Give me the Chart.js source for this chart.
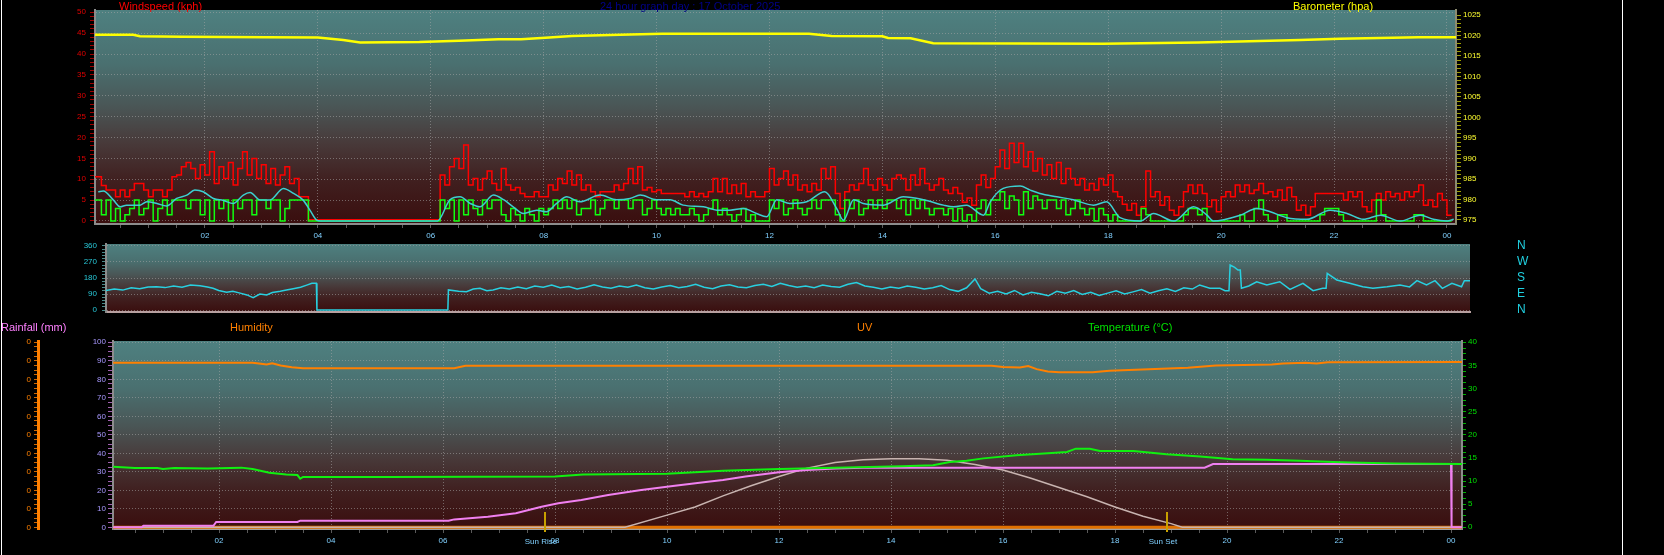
<!DOCTYPE html>
<html>
<head>
<meta charset="utf-8">
<script src="https://cdn.jsdelivr.net/npm/chart.js@4.4.1/dist/chart.umd.min.js"></script>
<style>
  body { margin: 0; background: #000; }
  #page { position: relative; width: 1664px; height: 555px; overflow: hidden; background: #000;
          font-family: "Liberation Sans", Arial, sans-serif; }
  canvas { position: absolute; }
  .lbl { position: absolute; font-size: 11px; line-height: 12px; white-space: nowrap; }
  .edge { position: absolute; top: 0; width: 1px; height: 555px; background: #fff; }
</style>
</head>
<body>
<div id="page">
  <canvas id="windChart" width="1664" height="250" style="left:0;top:0"></canvas>
  <canvas id="dirChart" width="1664" height="90" style="left:0;top:230px"></canvas>
  <canvas id="climateChart" width="1638" height="237" style="left:26px;top:318px"></canvas>

  <div class="lbl" style="left:119px;top:0;color:#ff0000">Windspeed (kph)</div>
  <div class="lbl" style="left:600px;top:0;color:#000088">24 hour graph day : 17 October 2025</div>
  <div class="lbl" style="left:1293px;top:0;color:#ffff00">Barometer (hpa)</div>
  <div class="lbl" style="left:1px;top:321px;color:#ff80ff">Rainfall (mm)</div>
  <div class="lbl" style="left:230px;top:321px;color:#ff8000">Humidity</div>
  <div class="lbl" style="left:857px;top:321px;color:#ff8000">UV</div>
  <div class="lbl" style="left:1088px;top:321px;color:#00e000">Temperature (°C)</div>
  <div class="edge" style="left:1px"></div>
  <div class="edge" style="left:1622px"></div>
</div>

<script>
// ---- data (hours since midnight) ----
const windStep = 5 / 60;   // gust / speed are 5-minute samples from 00:00

const gustKph = [
  10.6,10.6,8.5,7.4,7.4,5.8,7.4,5.8,7.4,9.0,9.0,7.4,
  5.8,7.4,7.4,5.8,7.4,10.6,11.0,13.0,14.0,12.6,10.2,13.5,
  11.0,16.6,9.0,13.0,10.2,14.0,8.6,12.6,16.6,11.0,15.0,10.2,
  13.5,9.0,12.6,8.6,11.0,13.0,9.0,10.2,5.8,5.8,0.3,0.3,
  0.3,0.3,0.3,0.3,0.3,0.3,0.3,0.3,0.3,0.3,0.3,0.3,
  0.3,0.3,0.3,0.3,0.3,0.3,0.3,0.3,0.3,0.3,0.3,0.3,
  0.3,0.3,11.0,8.6,13.0,15.0,12.6,18.2,8.6,10.2,7.4,10.2,
  12.0,9.0,7.4,12.6,8.6,7.4,8.0,6.6,5.8,5.8,7.0,5.8,
  5.8,8.6,7.4,10.2,9.0,12.0,8.6,11.0,7.4,8.6,7.0,5.8,
  7.0,7.0,7.0,8.6,7.4,9.0,12.6,9.0,13.0,7.4,8.0,7.0,
  7.4,6.6,6.6,6.6,6.6,6.6,5.8,7.0,5.8,6.6,5.8,7.0,
  10.2,7.0,10.2,6.6,8.6,6.6,9.0,5.8,7.0,5.8,5.8,7.0,
  12.6,8.6,10.2,12.0,8.6,11.0,7.4,8.6,7.0,9.0,7.4,12.6,
  10.2,13.0,6.6,3.0,7.0,8.6,7.4,9.0,12.6,8.6,7.4,10.2,
  8.6,7.4,10.2,11.0,10.2,7.4,11.0,8.6,12.6,9.0,7.4,8.6,
  10.2,7.4,6.6,8.0,6.6,4.5,5.5,3.8,8.6,11.0,8.0,10.2,
  13.0,17.0,12.6,18.6,14.0,18.6,13.0,16.6,12.0,15.0,11.0,13.5,
  10.2,14.0,9.0,12.6,10.2,8.6,10.2,7.4,9.0,7.4,10.2,8.6,
  11.0,7.0,5.8,4.0,2.6,4.2,1.4,3.4,12.0,5.8,7.0,3.8,
  5.8,2.6,1.4,3.4,7.0,8.6,6.6,8.6,6.6,3.4,5.0,2.2,
  5.8,7.0,5.8,8.6,7.0,8.6,6.6,7.4,9.0,6.6,7.0,5.8,
  7.4,5.0,8.0,5.8,2.6,3.8,1.4,3.4,6.6,6.6,6.6,6.6,
  6.6,6.6,5.0,7.0,5.8,7.0,3.4,2.2,5.0,6.6,5.0,7.0,
  5.8,6.6,5.0,7.0,5.8,7.0,8.6,3.8,5.0,3.4,6.6,5.0,
  1.4,1.4
];

const speedKph = [
  5,5,1.5,5,0,3,0,1.5,3,5,1.5,3,
  5,0,3,5,1.5,5,5,5,3,5,5,1.5,
  5,0,5,3,5,0,5,3,5,5,1.5,5,
  5,3,5,5,0,3,5,5,5,5,0,0,
  0,0,0,0,0,0,0,0,0,0,0,0,
  0,0,0,0,0,0,0,0,0,0,0,0,
  0,0,5,3,5,0,5,1.5,5,3,1.5,5,
  3,5,5,1.5,0,3,1.5,0,3,1.5,0,3,
  1.5,3,5,3,5,3,5,1.5,3,3,5,1.5,
  3,5,5,3,5,5,3,5,5,1.5,3,5,
  3,1.5,3,1.5,3,1.5,1.5,3,1.5,0,1.5,3,
  5,1.5,3,1.5,0,1.5,3,0,1.5,0,0,0,
  5,3,5,1.5,3,5,3,1.5,3,5,3,5,
  5,5,1.5,0,5,3,5,1.5,3,5,3,5,
  3,5,5,3,5,1.5,5,3,5,3,1.5,3,
  3,1.5,3,0,3,0,1.5,0,3,5,1.5,5,
  5,7,3,6,5,1.5,7,3,6,5,3,5,
  5,3,5,1.5,3,5,3,1.5,3,0,3,1.5,
  0,1.5,0,0,0,0,0,3,1.5,0,0,0,
  0,0,0,0,1.5,3,3,1.5,3,0,0,0,
  0,0,0,0,1.5,0,0,3,5,1.5,0,0,
  1.5,1.5,0,0,0,0,0,0,0,1.5,3,3,
  3,1.5,0,0,0,0,0,0,0,5,1.5,0,
  0,0,0,0,0,1.5,1.5,0,0,0,0,0,
  0,0
];

const avgTimes = [0.11,0.2,0.38,0.5,0.61,0.85,0.97,1.15,1.32,1.5,1.68,1.82,1.97,2.15,2.33,2.5,2.68,2.8,2.98,3.15,3.39,3.57,3.74,3.86,3.98,4.05,
  6.12,6.34,6.52,6.7,6.87,7.11,7.29,7.46,7.64,7.88,8.05,8.23,8.41,8.64,9.0,9.29,9.53,9.71,10.0,10.24,10.47,10.83,11.07,11.3,11.54,11.77,11.95,
  12.13,12.36,12.66,12.98,13.19,13.31,13.49,13.66,14.02,14.37,14.73,15.08,15.26,15.49,15.79,15.91,16.14,16.44,16.62,16.79,17.09,17.38,17.74,17.97,
  18.21,18.57,18.8,19.16,19.51,19.75,19.86,20.34,20.63,20.87,21.16,21.52,21.93,22.23,22.52,22.82,23.17,23.53,23.76,24.0,24.12];
const avgKph = [7.0,7.2,5.0,3.4,3.8,3.8,4.6,4.2,3.6,5.4,6.2,7.4,7.0,5.4,4.9,4.2,6.2,6.8,5.0,5.0,7.8,6.6,5.0,2.6,0.2,0,
  0,5.1,5.8,4.2,3.4,6.2,5.1,3.4,1.8,2.6,2.2,4.2,5.8,4.6,6.2,5.1,5.4,6.2,5.1,5.1,3.8,3.4,2.6,2.6,3.0,1.8,1.0,
  5.1,4.2,4.6,7.0,3.0,0.2,5.1,4.2,3.8,5.8,5.1,3.8,3.4,3.8,1.4,4.6,7.8,8.4,7.4,6.6,5.8,5.1,3.8,4.6,
  0.8,0,1.8,0,3.4,1.4,0,1.4,3.0,2.2,0.8,0.4,2.6,1.8,0.4,1.4,0,1.4,0.4,0,0.4];

const baroTimes = [0.05,0.73,0.85,1.6,3.1,4.0,4.45,4.75,5.8,6.5,7.2,7.6,8.1,8.5,9.35,10.1,12.7,13.1,14.0,14.1,14.5,14.9,17.9,19.6,20.5,21.4,22.1,23.5,24.16];
const baroHpa = [1020.2,1020.2,1019.8,1019.7,1019.6,1019.5,1018.9,1018.3,1018.4,1018.7,1019.1,1019.1,1019.5,1019.9,1020.2,1020.45,1020.4,1019.9,1019.8,1019.4,1019.3,1018.1,1018.0,1018.3,1018.6,1018.9,1019.2,1019.6,1019.6];

const dirTimes = [0.05,0.2,0.35,0.5,0.65,0.8,0.95,1.1,1.25,1.4,1.55,1.72,1.85,1.95,2.05,2.19,2.3,2.43,2.55,2.66,2.78,2.9,3.0,3.14,3.25,3.37,3.5,3.61,3.7,3.78,3.79,
  6.11,6.12,6.3,6.44,6.56,6.68,6.8,6.91,7.05,7.2,7.35,7.5,7.65,7.8,7.95,8.1,8.25,8.4,8.55,8.7,8.85,9.0,9.15,9.3,9.45,9.6,9.75,9.9,
  10.05,10.2,10.35,10.5,10.65,10.8,10.95,11.1,11.25,11.4,11.55,11.7,11.85,12.0,12.15,12.3,12.45,12.6,12.75,12.9,13.05,13.2,13.35,13.5,13.65,13.8,13.95,
  14.1,14.25,14.4,14.55,14.7,14.85,15.0,15.15,15.3,15.45,15.55,15.7,15.85,16.0,16.15,16.3,16.45,16.6,16.75,16.9,17.05,17.2,17.35,17.5,17.65,17.8,17.95,
  18.1,18.25,18.4,18.55,18.7,18.85,19.0,19.15,19.3,19.43,19.61,19.79,19.88,19.95,19.97,20.05,20.11,20.15,20.17,20.3,20.44,20.62,20.85,21.03,21.26,21.44,
  21.61,21.67,21.69,21.86,22.09,22.32,22.5,22.75,22.98,23.15,23.28,23.45,23.6,23.73,23.9,24.07,24.12,24.22];
const dirDeg = [109,118,112,125,120,130,131,126,135,128,140,137,130,122,110,100,105,95,85,70,90,85,98,105,112,120,128,140,150,150,0,
  0,113,105,103,118,122,108,113,125,118,130,120,135,128,140,125,132,118,128,142,130,122,135,128,140,125,118,130,
  138,125,132,145,128,120,135,142,130,125,138,145,132,150,138,128,135,125,140,132,128,145,155,135,128,118,130,
  122,135,128,118,125,138,115,105,125,175,120,95,105,90,110,85,100,92,80,105,95,110,88,100,82,95,108,
  90,102,115,95,108,120,105,125,118,141,122,122,109,109,253,240,225,225,122,135,159,141,159,116,150,109,
  122,122,206,169,150,131,122,131,141,130,165,141,165,122,150,131,165,165];
const compassTicks = [0, 90, 180, 270, 360];
const compassNames = ['N', 'E', 'S', 'W', 'N'];

const tempTimes = [0.11,0.5,0.9,1.0,1.2,1.8,2.4,2.6,2.9,3.2,3.4,3.45,3.5,5.0,8.0,8.5,10.0,11.0,12.0,13.0,14.2,14.75,15.05,15.35,15.65,16.24,16.8,17.14,17.3,17.55,17.73,18.33,18.92,19.52,20.1,20.7,21.3,21.9,22.2,23.0,24.2];
const tempC = [13.1,12.8,12.8,12.6,12.8,12.7,12.9,12.6,11.8,11.4,11.3,10.5,10.9,10.9,11.0,11.4,11.6,12.2,12.6,12.9,13.2,13.4,14.1,14.4,14.9,15.6,16.0,16.3,17.0,17.0,16.5,16.5,15.8,15.3,14.7,14.6,14.4,14.1,14.0,13.8,13.7];

const humTimes = [0.11,2.6,2.75,2.85,2.95,3.1,3.3,3.5,6.2,6.4,14.5,15.8,16.0,16.3,16.45,16.6,16.8,17.0,17.6,17.9,18.6,19.3,19.8,20.8,21.0,21.4,21.6,21.8,24.2];
const humPct = [89,89,88.4,88.0,88.7,87.5,86.5,86.0,86.0,87.3,87.3,87.3,86.6,86.4,87.2,85.5,84.2,83.8,83.8,84.6,85.5,86.2,87.5,88.0,88.6,88.9,88.6,89.2,89.3];

const rainTimes = [0.11,0.62,0.65,1.9,1.95,3.4,3.45,6.1,6.2,6.8,7.3,7.76,8.06,8.47,8.95,9.54,10.14,10.73,11.0,11.4,12.0,12.5,13.0,13.5,19.6,19.75,24.0,24.01,24.2];
const rainMm = [0,0,0.8,0.8,2.9,2.9,3.6,3.6,4.3,5.7,7.6,11.1,13.0,14.8,17.5,20.2,22.5,24.6,25.6,27.5,29.8,31.0,31.8,32.2,32.2,34.2,34.2,0,0];

const solarTimes = [0.11,9.25,10.0,10.5,11.0,11.5,12.0,12.5,13.0,13.5,14.0,14.5,15.0,15.5,16.0,16.5,17.0,17.5,18.0,18.5,19.0,19.2,24.2];
const solarUv = [0,0,0.66,1.1,1.7,2.25,2.75,3.2,3.5,3.65,3.7,3.7,3.62,3.4,3.1,2.65,2.15,1.65,1.1,0.6,0.2,0,0];
const uvTimes = [0.11, 24.2];
const uvIndex = [0, 0];

const sunRise = 7.82;
const sunSet = 18.93;

// ---- helpers ----
const gridDots = 'rgba(165,165,165,0.55)';
const bgStops = [[0, '#4e8080'], [0.25, '#4a7070'], [0.45, '#4a5656'], [0.62, '#483a3a'], [0.8, '#401f1f'], [1, '#3a0e0e']];

function pairs(times, values) {
  return times.map((t, i) => ({x: t, y: values[i]}));
}
function sampled(values) {
  return values.map((v, i) => ({x: i * windStep, y: v}));
}
function stepTicks(from, to, step) {
  const out = [];
  for (let k = 0; from + k * step <= to + 1e-9; k++) out.push({value: +(from + k * step).toFixed(4)});
  return out;
}
function isMajor(v, every) {
  return Math.abs(v / every - Math.round(v / every)) < 1e-6;
}

function yAxis(o) {
  return {
    position: o.pos, min: o.min, max: o.max, weight: o.weight || 0,
    afterBuildTicks: s => { s.ticks = stepTicks(o.from, o.to, o.minor); },
    afterFit: s => { s.width = o.width; s.paddingTop = 0; s.paddingBottom = 0; },
    ticks: {color: o.label, padding: o.pad, autoSkip: false, font: {size: 8},
      callback: v => isMajor(v, o.major) ? String(v) : ''},
    grid: {drawOnChartArea: o.grid !== false, tickLength: o.tickLen, tickColor: o.tick, tickBorderDash: [],
      color: c => (c.tick && isMajor(c.tick.value, o.major)) ? gridDots : 'rgba(0,0,0,0)'},
    border: {color: o.border, width: o.borderWidth || 2, dash: [1, 2]}
  };
}

function xAxis(min, max, height, labels, border) {
  return {
    type: 'linear', position: 'bottom', min: min, max: max,
    afterBuildTicks: s => { s.ticks = stepTicks(0.5, 24, 0.5).filter(t => t.value >= min && t.value <= max); },
    afterFit: s => { s.height = height; s.paddingLeft = 0; s.paddingRight = 0; },
    ticks: {display: labels, color: '#80d0ff', padding: 3, autoSkip: false, maxRotation: 0, minRotation: 0,
      font: {size: 8}, callback: v => isMajor(v, 2) ? String(v % 24).padStart(2, '0') : ''},
    grid: {display: labels, tickLength: 4, tickColor: '#5a5a5a', tickBorderDash: [],
      color: c => (c.tick && isMajor(c.tick.value, 2)) ? gridDots : 'rgba(0,0,0,0)'},
    border: {color: border, width: 2, dash: [1, 2]}
  };
}

function line(points, color, width, axis, extra) {
  return Object.assign({data: points, borderColor: color, borderWidth: width, yAxisID: axis,
    pointRadius: 0, fill: false, tension: 0}, extra || {});
}

const panelFill = {
  id: 'panelFill',
  beforeDraw(chart) {
    const {ctx, chartArea: a} = chart;
    const g = ctx.createLinearGradient(0, a.top, 0, a.bottom);
    bgStops.forEach(([p, c]) => g.addColorStop(p, c));
    ctx.save();
    ctx.fillStyle = g;
    ctx.fillRect(a.left, a.top, a.right - a.left, a.bottom - a.top);
    ctx.restore();
  }
};

const sunMarks = {
  id: 'sunMarks',
  afterDatasetsDraw(chart) {
    const {ctx, chartArea: a} = chart;
    const x = chart.scales.x;
    ctx.save();
    [[sunRise, 'Sun Rise'], [sunSet, 'Sun Set']].forEach(([t, name]) => {
      const px = Math.round(x.getPixelForValue(t));
      ctx.strokeStyle = '#c8a000';
      ctx.lineWidth = 2;
      ctx.beginPath();
      ctx.moveTo(px, a.bottom - 17);
      ctx.lineTo(px, a.bottom + 3);
      ctx.stroke();
      ctx.fillStyle = '#80d0ff';
      ctx.font = '8px "Liberation Sans", Arial, sans-serif';
      ctx.textAlign = 'center';
      ctx.textBaseline = 'middle';
      ctx.fillText(name, px - 4, a.bottom + 13);
    });
    ctx.restore();
  }
};

Chart.defaults.font.family = '"Liberation Sans", Arial, sans-serif';
Chart.defaults.font.size = 8;

function baseOptions(padTop, scales) {
  return {
    responsive: false, animation: false, devicePixelRatio: 1, events: [],
    layout: {padding: {top: padTop, left: 0, right: 0, bottom: 0}},
    plugins: {legend: {display: false}, tooltip: {enabled: false}},
    scales: scales
  };
}

// ---- top panel: wind speed + barometer ----
new Chart(document.getElementById('windChart'), {
  type: 'line',
  data: {datasets: [
    line(pairs(avgTimes, avgKph), '#3cd0d0', 1.5, 'yWind', {cubicInterpolationMode: 'monotone'}),
    line(sampled(speedKph), '#10ff10', 1.5, 'yWind', {stepped: true}),
    line(sampled(gustKph), '#ff0000', 1.5, 'yWind', {stepped: true}),
    line(pairs(baroTimes, baroHpa), '#ffff00', 2.5, 'yBaro')
  ]},
  options: baseOptions(10, {
    x: xAxis(0.053, 24.16, 26, true, '#8c8c8c'),
    yWind: yAxis({pos: 'left', min: -0.72, max: 50.55, from: 0, to: 50, minor: 1, major: 5, width: 95,
      label: '#e00000', tick: '#a00000', border: '#8c8c8c', pad: 4, tickLen: 5}),
    yBaro: yAxis({pos: 'right', min: 974.02, max: 1026.22, from: 975, to: 1025, minor: 1, major: 5, width: 208,
      label: '#ffff30', tick: '#a0a000', border: '#8c8c70', pad: 2, tickLen: 5, grid: false})
  }),
  plugins: [panelFill]
});

// ---- middle panel: wind direction ----
new Chart(document.getElementById('dirChart'), {
  type: 'line',
  data: {datasets: [
    line(pairs(dirTimes, dirDeg), '#28d0e0', 1.5, 'yDir')
  ]},
  options: baseOptions(14, {
    x: xAxis(0.053, 24.22, 8, false, '#b8a0a0'),
    yDir: yAxis({pos: 'left', min: -11, max: 371, from: 0, to: 360, minor: 18, major: 90, width: 106,
      label: '#28c8d8', tick: '#4a8a8a', border: '#8c8c8c', pad: 5, tickLen: 4}),
    yCompass: {
      position: 'right', min: -11, max: 371,
      afterBuildTicks: s => { s.ticks = compassTicks.map(v => ({value: v})); },
      afterFit: s => { s.width = 194; s.paddingTop = 0; s.paddingBottom = 0; },
      ticks: {color: '#20d0e0', padding: 47, autoSkip: false, font: {size: 12}, callback: (v, i) => compassNames[i]},
      grid: {display: false, drawTicks: false},
      border: {display: false}
    }
  }),
  plugins: [panelFill]
});

// ---- bottom panel: humidity, temperature, rain, UV ----
new Chart(document.getElementById('climateChart'), {
  type: 'line',
  data: {datasets: [
    line(pairs(humTimes, humPct), '#ff8000', 2, 'yHum'),
    line(pairs(tempTimes, tempC), '#10f010', 2, 'yTemp'),
    line(pairs(rainTimes, rainMm), '#f080f0', 2, 'yRain'),
    line(pairs(solarTimes, solarUv), '#c8b4b0', 1.5, 'yUv'),
    line(pairs(uvTimes, uvIndex), '#e07000', 3, 'yUv')
  ]},
  options: baseOptions(23, {
    x: xAxis(0.107, 24.196, 26, true, '#a0a0a0'),
    yHum: yAxis({pos: 'left', min: -0.9, max: 100.7, from: 0, to: 100, minor: 2.5, major: 10, width: 75,
      label: '#a898ff', tick: '#a060b0', border: '#8c8c8c', pad: 2, tickLen: 5}),
    yRain: yAxis({pos: 'left', weight: 10, min: -0.9, max: 100.7, from: 0, to: 100, minor: 2.5, major: 10, width: 12,
      label: '#ff8000', tick: '#d06800', border: '#ff8000', borderWidth: 3, pad: 3, tickLen: 4, grid: false}),
    yTemp: yAxis({pos: 'right', min: -0.37, max: 40.28, from: 0, to: 40, minor: 1.25, major: 5, width: 202,
      label: '#00e000', tick: '#00b000', border: '#8c8c8c', pad: 2, tickLen: 4, grid: false}),
    yUv: {display: false, min: -0.09, max: 10.07}
  }),
  plugins: [panelFill, sunMarks]
});
</script>
</body>
</html>
